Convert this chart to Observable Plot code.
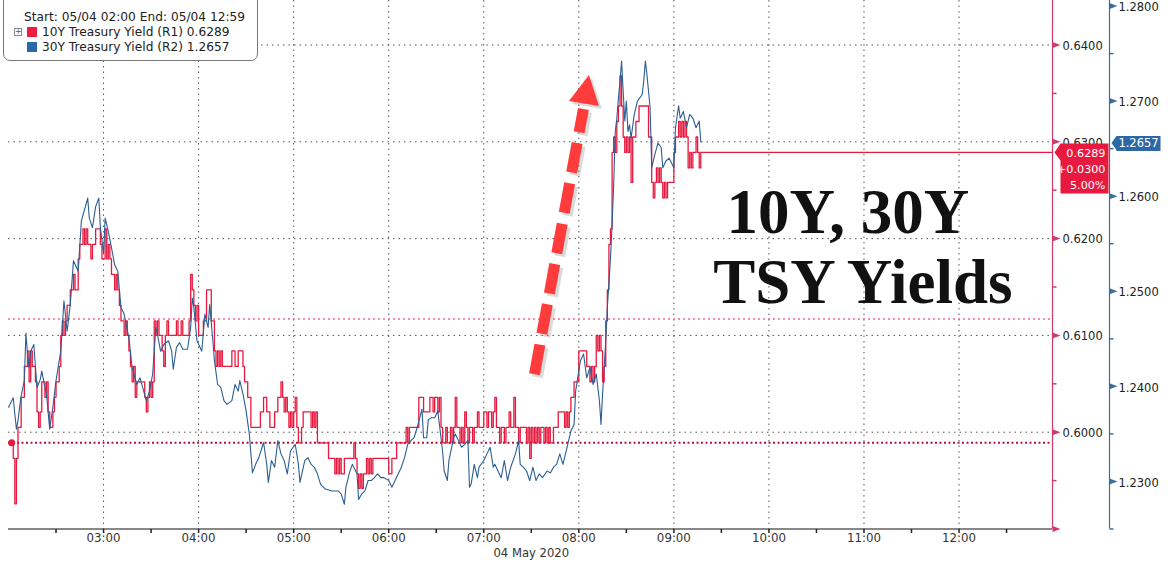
<!DOCTYPE html>
<html><head><meta charset="utf-8">
<script src="https://cdn.jsdelivr.net/npm/d3@7"></script>
<script src="https://cdn.jsdelivr.net/npm/@observablehq/plot@0.6"></script>
<style>
html,body{margin:0;padding:0;background:#fff;}
#wrap{position:relative;width:1168px;height:568px;overflow:hidden;background:#fff;}
#legend{position:absolute;left:3px;top:-6px;width:255px;height:67px;border:1px solid #777;border-radius:7px;background:#fff;box-sizing:border-box;font-family:"DejaVu Sans",Verdana,sans-serif;font-size:12.2px;color:#222;}
#legend div{position:absolute;white-space:nowrap;line-height:16px;}
.sw{width:10px;height:10px;}
</style></head>
<body><div id="wrap"><div id="chart"></div>
<div id="legend">
  <div id="lg0" style="left:20px;top:14px"></div>
  <div style="left:10px;top:33px;width:6px;height:6px;border:1px solid #888;font-size:8px;line-height:6px;text-align:center;color:#555">+</div>
  <div class="sw" id="sw1" style="left:23px;top:32px"></div>
  <div id="lg1" style="left:38px;top:29px"></div>
  <div class="sw" id="sw2" style="left:23px;top:47px"></div>
  <div id="lg2" style="left:38px;top:44px"></div>
</div></div>
<script>
// ---------- data ----------
const startLabel = "02:00", endLabel = "12:59";
const seriesNames = ["10Y Treasury Yield (R1)", "30Y Treasury Yield (R2)"];
const lastValues = ["0.6289", "1.2657"];
const priceLabels = ["0.6289", "+0.0300", "5.00%"];
const hourLabels = ["03:00","04:00","05:00","06:00","07:00","08:00","09:00","10:00","11:00","12:00"];
const dateLabel = "04 May 2020";
const redTicks = [0.59, 0.60, 0.61, 0.62, 0.63, 0.64];
const redMinor = [0.595, 0.605, 0.615, 0.625, 0.635];
const blueTicks = [1.23, 1.24, 1.25, 1.26, 1.27, 1.28];
const blueMinor = [1.225, 1.235, 1.245, 1.255, 1.265, 1.275];
const prevClose = 0.5989;
const pinkLevel = 0.6117;
const lastRed = 0.6289, lastBlue = 1.2657;
const annotation = ["10Y, 30Y", "TSY Yields"];
const annotationAt = [[529.8, 0.6206], [539.3, 0.6133]];
const arrowFrom = [332, 0.6060], arrowTo = [362.9, 0.6334], arrowTip = [366.4, 0.6369];

// 10Y yield: [minutes after 02:00, yield]
const redSeries = [[2,0.5989],[3,0.5973],[4,0.5926],[5,0.5973],[6,0.6005],[8,0.6036],[10,0.6068],[12,0.6084],[13,0.6052],[14,0.6084],[15,0.6068],[17,0.6052],[18,0.6021],[19,0.6005],[20,0.6021],[21,0.6052],[23,0.6036],[24,0.6052],[25,0.6021],[26,0.6005],[28,0.6021],[29,0.6036],[30,0.6052],[32,0.6068],[33,0.6100],[34,0.6115],[35,0.6100],[36,0.6115],[37,0.6131],[39,0.6147],[41,0.6163],[42,0.6147],[44,0.6179],[45,0.6194],[47,0.6210],[48,0.6194],[49,0.6210],[50,0.6194],[52,0.6179],[53,0.6194],[55,0.6210],[58,0.6194],[59,0.6179],[61,0.6210],[62,0.6179],[63,0.6194],[64,0.6179],[65,0.6163],[67,0.6147],[68,0.6163],[69,0.6147],[70,0.6131],[71,0.6115],[73,0.6100],[74,0.6115],[75,0.6100],[76,0.6084],[77,0.6068],[78,0.6052],[79,0.6068],[80,0.6036],[81,0.6052],
[86,0.6036],[87,0.6021],[88,0.6036],[89,0.6052],[90,0.6036],[91,0.6052],[92,0.6115],[93,0.6100],[94,0.6115],[95,0.6100],[97,0.6084],[98,0.6068],[99,0.6100],[100,0.6115],[101,0.6100],[106,0.6115],[107,0.6100],[109,0.6115],[110,0.6100],[114,0.6115],[115,0.6163],[116,0.6147],[117,0.6131],[118,0.6115],[119,0.6131],[120,0.6100],[123,0.6115],[125,0.6147],[128,0.6115],[130,0.6084],[131,0.6068],[132,0.6084],[133,0.6068],[134,0.6084],[135,0.6068],[141,0.6084],[143,0.6068],[145,0.6084],[148,0.6068],[149,0.6052],[151,0.6036],[153,0.6005],[159,0.6021],[161,0.6036],[163,0.6021],[165,0.6005],[168,0.6021],[170,0.6036],[172,0.6052],[173,0.6036],[174,0.6021],[175,0.6036],[176,0.6021],[177,0.6005],[178,0.6021],[179,0.6005],[180,0.6021],[181,0.6036],[182,0.6005],[183,0.5989],[185,0.6005],[186,0.6021],[191,0.6005],[192,0.6021],[193,0.6005],[194,0.6021],[195,0.5989],
[202,0.5973],[206,0.5957],[207,0.5973],[208,0.5957],[209,0.5973],[210,0.5957],[212,0.5973],[218,0.5989],[219,0.5973],[220,0.5957],[221,0.5942],[222,0.5957],[223,0.5942],[224,0.5957],[226,0.5973],[227,0.5957],[228,0.5973],[229,0.5957],[230,0.5973],[240,0.5957],[242,0.5973],[245,0.5989],[251,0.6005],[252,0.5989],[253,0.6005],[259,0.6036],[262,0.6021],[266,0.6036],[268,0.6021],[269,0.6036],[271,0.6021],[272,0.6036],[273,0.6005],[274,0.5989],[276,0.6005],[277,0.5989],[279,0.6005],[280,0.5989],[281,0.6005],[282,0.6036],[283,0.6005],[285,0.5989],[286,0.6005],[287,0.5989],[288,0.6021],[289,0.6005],[290,0.5989],[291,0.6005],[293,0.5989],[294,0.6005],[296,0.6021],[297,0.6005],[300,0.6021],[302,0.6005],[303,0.6021],[305,0.6005],[306,0.6021],[307,0.6036],[308,0.6005],[310,0.5989],[311,0.6005],[313,0.5989],[314,0.6005],[316,0.6021],[317,0.6005],[319,0.6036],[320,0.6005],[322,0.5989],[323,0.6005],[327,0.5989],[328,0.6005],[329,0.5973],[330,0.6005],[331,0.5989],[332,0.6005],[333,0.5989],[334,0.6005],[335,0.5989],[336,0.6005],[338,0.5989],[339,0.6005],[340,0.5989],[341,0.6005],[342,0.5989],[344,0.6005],[347,0.6021],
[351,0.6005],[352,0.6021],[353,0.6005],[354,0.6021],[355,0.6036],[357,0.6052],[360,0.6084],[365,0.6068],[367,0.6052],[368,0.6068],[369,0.6052],[370,0.6068],[371,0.6100],[372,0.6084],[373,0.6100],[374,0.6084],[375,0.6052],[376,0.6068],[377,0.6115],[378,0.6147],[379,0.6194],[380,0.6210],[381,0.6289],[382,0.6305],[383,0.6289],[384,0.6321],[385,0.6337],[386,0.6368],[387,0.6337],[388,0.6305],[389,0.6289],[390,0.6305],[391,0.6289],[392,0.6305],[393,0.6258],[394,0.6305],[396,0.6321],[398,0.6337],[404,0.6305],[406,0.6258],[407,0.6242],[408,0.6258],[409,0.6273],[410,0.6258],[411,0.6273],[412,0.6258],[413,0.6242],[414,0.6258],[415,0.6242],[416,0.6258],[420,0.6289],[421,0.6305],[423,0.6321],[424,0.6305],[425,0.6321],[426,0.6305],[427,0.6321],[428,0.6305],[429,0.6273],[430,0.6289],[431,0.6273],[432,0.6289],[434,0.6305],[435,0.6289],[436,0.6273],[437,0.6289]];

// 30Y yield: [minutes after 02:00, yield]
const blueSeries = [[0,1.2378],[3,1.2388],[4,1.2371],[5,1.2355],[6,1.2364],[7,1.2378],[8,1.2390],[10,1.2406],[11,1.2456],[12,1.2434],[13,1.2420],[14,1.2437],[16,1.2444],[17,1.2420],[18,1.2399],[20,1.2407],[21,1.2416],[23,1.2399],[24,1.2392],[26,1.2355],[28,1.2378],[30,1.2406],[33,1.2437],[35,1.2490],[37,1.2458],[39,1.2486],[41,1.2532],[44,1.2521],[46,1.2574],[48,1.2586],[50,1.2598],[51,1.2577],[53,1.2567],[55,1.2589],[57,1.2598],[58,1.2567],[60,1.2540],[61,1.2577],[63,1.2563],[65,1.2546],[67,1.2528],[69,1.2521],[71,1.2483],[73,1.2476],[76,1.2451],[78,1.2420],[81,1.2402],[83,1.2409],[85,1.2397],[87,1.2385],[89,1.2395],[91,1.2413],[93,1.2462],[94,1.2455],[96,1.2437],[98,1.2444],[101,1.2448],[103,1.2437],[104,1.2418],[106,1.2441],[108,1.2446],[110,1.2439],[113,1.2439],[115,1.2462],[116,1.2493],[117,1.2483],[119,1.2448],[122,1.2437],[124,1.2476],[126,1.2462],[127,1.2486],[129,1.2448],[130,1.2427],[132,1.2402],[134,1.2399],[136,1.2385],[138,1.2381],[141,1.2385],[143,1.2402],[145,1.2395],[146,1.2406],[148,1.2392],[150,1.2374],[152,1.2350],[154,1.2309],[156,1.2318],[158,1.2325],[161,1.2341],[163,1.2318],[164,1.2299],[166,1.2322],[168,1.2315],[170,1.2343],[172,1.2329],[174,1.2322],[176,1.2308],[178,1.2332],[181,1.2339],[183,1.2318],[184,1.2299],[187,1.2322],[189,1.2325],[191,1.2318],[193,1.2315],[195,1.2308],[197,1.2297],[200,1.2292],[204,1.2290],[208,1.2290],[210,1.2287],[212,1.2276],[213,1.2294],[215,1.2308],[217,1.2318],[220,1.2308],[221,1.2281],[223,1.2287],[225,1.2290],[227,1.2301],[229,1.2301],[231,1.2304],[233,1.2308],[235,1.2304],[237,1.2304],[240,1.2301],[242,1.2294],[244,1.2301],[246,1.2308],[248,1.2315],[250,1.2325],[252,1.2339],[254,1.2343],[256,1.2346],[258,1.2357],[261,1.2376],[262,1.2346],[264,1.2346],[265,1.2365],[267,1.2367],[269,1.2367],[271,1.2374],[272,1.2360],[274,1.2332],[275,1.2311],[277,1.2301],[278,1.2322],[281,1.2346],[282,1.2350],[284,1.2343],[286,1.2336],[288,1.2339],[290,1.2343],[291,1.2294],[292,1.2297],[294,1.2318],[296,1.2304],[297,1.2315],[300,1.2322],[302,1.2329],[304,1.2336],[306,1.2315],[307,1.2318],[309,1.2311],[311,1.2304],[313,1.2322],[315,1.2301],[317,1.2315],[320,1.2329],[322,1.2343],[323,1.2318],[325,1.2315],[327,1.2311],[329,1.2301],[331,1.2315],[333,1.2301],[335,1.2308],[337,1.2304],[340,1.2311],[342,1.2309],[344,1.2315],[346,1.2318],[348,1.2329],[350,1.2318],[352,1.2332],[354,1.2346],[355,1.2353],[357,1.2360],[358,1.2395],[361,1.2427],[363,1.2434],[365,1.2409],[367,1.2420],[369,1.2402],[371,1.2413],[373,1.2385],[374,1.2360],[375,1.2392],[377,1.2448],[378,1.2483],[380,1.2535],[381,1.2570],[382,1.2612],[383,1.2668],[384,1.2682],[385,1.2703],[386,1.2721],[387,1.2742],[388,1.2710],[389,1.2679],[390,1.2700],[391,1.2668],[392,1.2675],[393,1.2661],[395,1.2686],[397,1.2700],[400,1.2707],[401,1.2721],[402,1.2742],[403,1.2728],[405,1.2693],[406,1.2630],[408,1.2644],[410,1.2656],[412,1.2651],[413,1.2630],[415,1.2637],[417,1.2640],[420,1.2630],[421,1.2672],[423,1.2695],[424,1.2682],[426,1.2689],[428,1.2672],[430,1.2686],[432,1.2682],[434,1.2672],[436,1.2679],[437,1.2657]];

// ---------- helpers ----------
const RED = "#e8193f", RED_AXIS = "#d23a6a", BLUE = "#2b5f94", BLUE_AXIS = "#3d6d9d";
const day = Date.UTC(2020, 4, 4);
const atHHMM = s => { const [h, m] = s.split(":").map(Number); return new Date(day + (h * 60 + m) * 60000); };
const tStart = atHHMM(startLabel), tEnd = atHHMM(endLabel);
const atMin = m => new Date(+tStart + m * 60000);
const redDomain = [0.59, 0.6446];
const blueDomain = [1.225, 1.28058];
const toLeft = b => redDomain[0] + (b - blueDomain[0]) * (redDomain[1] - redDomain[0]) / (blueDomain[1] - blueDomain[0]);
const halfHours = d3.range(30, 660, 30).map(atMin);
const hourTimes = hourLabels.map(atHHMM);
const lastTime = atMin(redSeries[redSeries.length - 1][0]);
const BLUE_DX = 57;
const FONT = "'DejaVu Sans', Verdana, sans-serif";

const triRight = {draw(c) { c.moveTo(0, -3); c.lineTo(8, 0); c.lineTo(0, 3); c.closePath(); }};
const hTick = {draw(c) { c.moveTo(0, 0); c.lineTo(4, 0); }};
const vTick = {draw(c) { c.moveTo(0, 0); c.lineTo(0, 4); }};
const redBox = {draw(c) { c.moveTo(2, 0); c.lineTo(8, -9); c.lineTo(56, -9); c.lineTo(56, 41); c.lineTo(8, 41); c.lineTo(8, 8); c.closePath(); }};
const blueBox = {draw(c) { c.moveTo(59, 1); c.lineTo(64, -6); c.lineTo(108, -6); c.lineTo(108, 9); c.lineTo(64, 9); c.lineTo(64, 8); c.closePath(); }};
const arrowHead = {draw(c) { c.moveTo(0, 0); c.lineTo(-20, 26); c.lineTo(10, 31); c.closePath(); }};
const fmt4 = d3.format(".4f");

const dotted = {stroke: "#555", strokeDasharray: "1.5,4", strokeWidth: 1};
const priceLine = (i, dy) => Plot.text([priceLabels[i]], {x: () => tEnd, y: () => lastRed, text: d => d, dx: 53, dy, fill: "#fff", textAnchor: "end", fontSize: 11.2});

const plot = Plot.plot({
  width: 1168, height: 568,
  marginLeft: 8, marginRight: 116, marginTop: 0, marginBottom: 39.5,
  x: {type: "utc", domain: [tStart, tEnd], axis: null},
  y: {domain: redDomain, axis: null},
  style: {fontFamily: FONT, fontSize: "11.5px", background: "#fff", overflow: "visible"},
  marks: [
    Plot.ruleY(redTicks.slice(1), dotted),
    Plot.ruleX(hourTimes, dotted),
    Plot.ruleY([pinkLevel], {stroke: "#ee6c8a", strokeDasharray: "2,3", strokeWidth: 1.5}),
    Plot.ruleY([prevClose], {stroke: "#b8123a", strokeDasharray: "2,2.5", strokeWidth: 2}),
    Plot.ruleY([redTicks[0]], {stroke: "#111", strokeWidth: 1}),
    Plot.dot(halfHours, {x: d => d, y: () => redTicks[0], symbol: vTick, stroke: "#222", r: 2}),
    Plot.line(redSeries, {x: d => atMin(d[0]), y: d => d[1], curve: "step-after", stroke: RED, strokeWidth: 1.3}),
    Plot.line(blueSeries, {x: d => atMin(d[0]), y: d => toLeft(d[1]), stroke: BLUE, strokeWidth: 1.1}),
    Plot.ruleY([lastRed], {x1: lastTime, x2: tEnd, stroke: RED, strokeWidth: 1.2}),
    Plot.dot([redSeries[0]], {x: d => atMin(d[0]), y: d => d[1], r: 3.5, fill: RED}),
    // annotation arrow
    Plot.link([0], {x1: atMin(arrowFrom[0]), y1: arrowFrom[1], x2: atMin(arrowTo[0]), y2: arrowTo[1], stroke: "#888", strokeOpacity: 0.3, strokeWidth: 11, strokeDasharray: "30,11", dx: 3, dy: 3}),
    Plot.dot([0], {x: atMin(arrowTip[0]), y: arrowTip[1], symbol: arrowHead, fill: "#888", fillOpacity: 0.3, r: 5, dx: 3, dy: 3}),
    Plot.link([0], {x1: atMin(arrowFrom[0]), y1: arrowFrom[1], x2: atMin(arrowTo[0]), y2: arrowTo[1], stroke: "#ff3b3b", strokeWidth: 11, strokeDasharray: "30,11"}),
    Plot.dot([0], {x: atMin(arrowTip[0]), y: arrowTip[1], symbol: arrowHead, fill: "#ff3b3b", r: 5}),
    // big annotation text
    Plot.text(annotation, {x: (d, i) => atMin(annotationAt[i][0]), y: (d, i) => annotationAt[i][1], text: d => d,
      fontFamily: "'Liberation Serif', 'Times New Roman', serif", fontWeight: "bold", fontSize: 63, fill: "#111", lineAnchor: "bottom", textAnchor: "middle"}),
    // right axes
    Plot.ruleX([tEnd], {stroke: RED_AXIS, strokeWidth: 1.2}),
    Plot.ruleX([tEnd], {stroke: BLUE_AXIS, strokeWidth: 1.2, dx: BLUE_DX}),
    Plot.dot(redTicks, {x: () => tEnd, y: d => d, symbol: triRight, fill: RED_AXIS, stroke: "none", r: 3}),
    Plot.dot(redMinor, {x: () => tEnd, y: d => d, symbol: hTick, stroke: RED_AXIS, r: 2}),
    Plot.text(redTicks.slice(1), {x: () => tEnd, y: d => d, text: d => fmt4(d), dx: 10, dy: 1, textAnchor: "start", fill: "#222", fontSize: 11.5}),
    Plot.dot(blueTicks, {x: () => tEnd, y: d => toLeft(d), symbol: triRight, fill: BLUE_AXIS, stroke: "none", r: 3, dx: BLUE_DX}),
    Plot.dot(blueMinor, {x: () => tEnd, y: d => toLeft(d), symbol: hTick, stroke: BLUE_AXIS, r: 2, dx: BLUE_DX}),
    Plot.text(blueTicks, {x: () => tEnd, y: d => toLeft(d), text: d => fmt4(d), dx: BLUE_DX + 9, dy: 1.5, textAnchor: "start", fill: "#222", fontSize: 11.5}),
    // price labels
    Plot.dot([lastRed], {x: () => tEnd, y: d => d, symbol: redBox, fill: RED, stroke: "none", r: 5}),
    priceLine(0, 1),
    priceLine(1, 17),
    priceLine(2, 33),
    Plot.dot([lastBlue], {x: () => tEnd, y: d => toLeft(d), symbol: blueBox, fill: "#2d68a6", stroke: "none", r: 5}),
    Plot.text([lastBlue], {x: () => tEnd, y: d => toLeft(d), text: d => fmt4(d), dx: 86, dy: 1.5, fill: "#fff", textAnchor: "middle", fontSize: 11.5}),
    // x axis labels
    Plot.text(hourLabels, {x: d => atHHMM(d), frameAnchor: "bottom", dy: 13, text: d => d, fill: "#333", fontSize: 11.8}),
    Plot.text([dateLabel], {x: () => atHHMM("07:30"), frameAnchor: "bottom", dy: 28, text: d => d, fill: "#333", fontSize: 11.6})
  ]
});

document.getElementById("chart").appendChild(plot);

document.getElementById("lg0").textContent = `Start: 05/04 ${startLabel} End: 05/04 ${endLabel}`;
document.getElementById("lg1").textContent = `${seriesNames[0]} ${lastValues[0]}`;
document.getElementById("lg2").textContent = `${seriesNames[1]} ${lastValues[1]}`;
document.getElementById("sw1").style.background = "#ee1c40";
document.getElementById("sw2").style.background = "#2d68a6";
</script>
</body></html>
